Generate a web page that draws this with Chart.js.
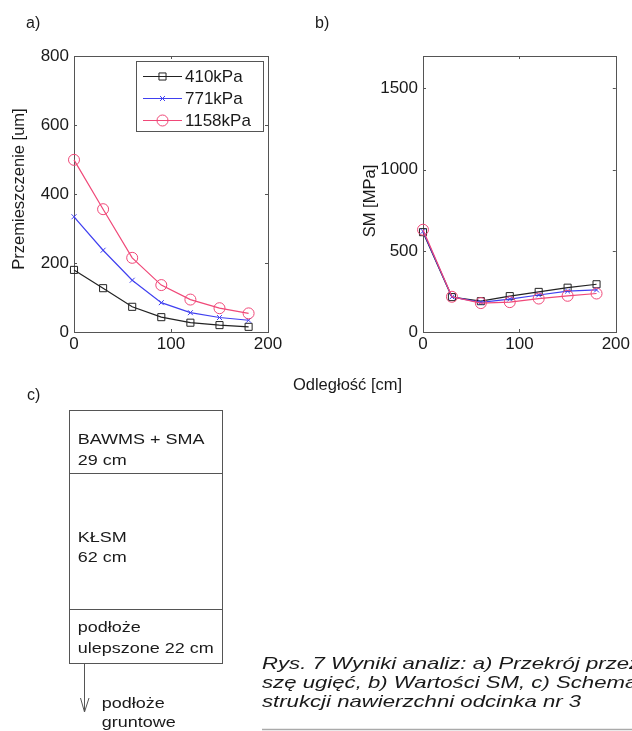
<!DOCTYPE html>
<html><head><meta charset="utf-8">
<script src="https://cdn.jsdelivr.net/npm/chart.js@4.4.1/dist/chart.umd.min.js"></script>
<style>
html,body{margin:0;padding:0;background:#fff;}
body{width:632px;height:731px;position:relative;overflow:hidden;font-family:"Liberation Sans",Arial,sans-serif;}
canvas{position:absolute;}
svg{position:absolute;left:0;top:0;}
</style></head><body>
<canvas id="ca" width="300" height="370" style="left:0;top:0;width:300px;height:370px"></canvas>
<canvas id="cb" width="332" height="370" style="left:300px;top:0;width:332px;height:370px"></canvas>
<svg width="632" height="731" font-family="Liberation Sans, Arial, sans-serif" fill="#1a1a1a" style="pointer-events:none">
  <text x="26" y="28" font-size="16">a)</text>
  <text x="315" y="28" font-size="16">b)</text>
  <text transform="translate(23.5,189) rotate(-90)" font-size="16.5" text-anchor="middle">Przemieszczenie [um]</text>
  <text transform="translate(375,201) rotate(-90)" font-size="16.5" text-anchor="middle">SM [MPa]</text>
  <text x="347.5" y="390" font-size="16.5" text-anchor="middle">Odległość [cm]</text>
  <text x="27" y="400" font-size="16">c)</text>
  <g stroke="#555" stroke-width="1" fill="none">
    <rect x="69.5" y="410.5" width="153" height="253"/>
    <line x1="69.5" y1="473.5" x2="222.5" y2="473.5"/>
    <line x1="69.5" y1="609.5" x2="222.5" y2="609.5"/>
    <line x1="84.5" y1="663.5" x2="84.5" y2="712"/>
    <polyline points="80.5,698 84.5,712 89,698"/>
  </g>
  <g font-size="15">
    <text transform="translate(77.7,444) scale(1.2,1)">BAWMS + SMA</text>
    <text transform="translate(77.7,465) scale(1.2,1)">29 cm</text>
    <text transform="translate(77.7,541.7) scale(1.2,1)">KŁSM</text>
    <text transform="translate(77.7,561.7) scale(1.2,1)">62 cm</text>
    <text transform="translate(77.7,631.7) scale(1.2,1)">podłoże</text>
    <text transform="translate(77.7,652.7) scale(1.2,1)">ulepszone 22 cm</text>
    <text transform="translate(101.7,708) scale(1.2,1)">podłoże</text>
    <text transform="translate(101.7,727) scale(1.2,1)">gruntowe</text>
  </g>
  <g font-size="16" font-style="italic">
    <text transform="translate(262,669) scale(1.386,1)">Rys. 7 Wyniki analiz: a) Przekrój przez</text>
    <text transform="translate(262,688) scale(1.386,1)">szę ugięć, b) Wartości SM, c) Schema</text>
    <text transform="translate(262,707) scale(1.386,1)">strukcji nawierzchni odcinka nr 3</text>
  </g>
  <line x1="262" y1="729.5" x2="632" y2="729.5" stroke="#aaa" stroke-width="1.5"/>
</svg>
<script>
// ---- data ----
const distances = [0, 30, 60, 90, 120, 150, 180];
const seriesNames = ['410kPa', '771kPa', '1158kPa'];
const deflection410 = [180, 127, 73, 43, 27, 20, 15];
const deflection771 = [334, 237, 150, 85, 56, 42, 34];
const deflection1158 = [499, 356, 215, 136, 94, 69, 54];
const sm410 = [615, 215, 190, 221, 247, 273, 294];
const sm771 = [620, 216, 183, 203, 228, 252, 259];
const sm1158 = [630, 217, 178, 184, 206, 223, 237];
const xTicks = [0, 100, 200];
const yTicksA = [0, 200, 400, 600, 800];
const yTicksB = [0, 500, 1000, 1500];

const colors = ['#222222', '#4040f0', '#f04878'];
const styles = [
  {pointStyle: 'rect', radius: 5},
  {pointStyle: 'crossRot', radius: 3.5},
  {pointStyle: 'circle', radius: 5.5}
];
const FONT = 'Liberation Sans, Arial, sans-serif';

function pts(vals){ return distances.map((d,i)=>({x:d, y:vals[i]})); }
function makeDatasets(arrs){
  return arrs.map((a,i)=>({
    label: seriesNames[i], data: pts(a),
    borderColor: colors[i], backgroundColor: colors[i],
    borderWidth: 1.2, pointStyle: styles[i].pointStyle, pointRadius: styles[i].radius,
    pointBorderWidth: 1, pointBackgroundColor: 'rgba(0,0,0,0)', pointBorderColor: colors[i],
    tension: 0, clip: false, order: 2 - i
  }));
}

const frameTicks = {
  id: 'frameTicks',
  beforeDatasetsDraw(chart){
    const {ctx, chartArea:{left,right,top,bottom}, scales:{x,y}} = chart;
    ctx.save();
    ctx.strokeStyle = '#555'; ctx.lineWidth = 1;
    ctx.strokeRect(Math.round(left)+0.5, Math.round(top)+0.5, Math.round(right-left), Math.round(bottom-top));
    ctx.beginPath();
    x.ticks.forEach(t=>{
      const px = Math.round(x.getPixelForValue(t.value))+0.5;
      ctx.moveTo(px, bottom); ctx.lineTo(px, bottom-3);
      ctx.moveTo(px, top); ctx.lineTo(px, top+3);
    });
    y.ticks.forEach(t=>{
      const py = Math.round(y.getPixelForValue(t.value))+0.5;
      ctx.moveTo(left, py); ctx.lineTo(left+3, py);
      ctx.moveTo(right, py); ctx.lineTo(right-3, py);
    });
    ctx.stroke();
    ctx.restore();
  }
};

const insideLegend = {
  id: 'insideLegend',
  afterDraw(chart){
    if (!chart.options.plugins.insideLegend || !chart.options.plugins.insideLegend.show) return;
    const ctx = chart.ctx;
    ctx.save();
    ctx.fillStyle = '#fff'; ctx.strokeStyle = '#555'; ctx.lineWidth = 1;
    ctx.fillRect(136.5, 61.5, 127, 70);
    ctx.strokeRect(136.5, 61.5, 127, 70);
    chart.data.datasets.forEach((ds,i)=>{
      const yc = 76.5 + 22*i;
      ctx.strokeStyle = ds.borderColor; ctx.lineWidth = ds.borderWidth;
      ctx.beginPath(); ctx.moveTo(143, yc); ctx.lineTo(182, yc); ctx.stroke();
      ctx.lineWidth = 1;
      ctx.fillStyle = 'rgba(0,0,0,0)';
      Chart.helpers.drawPoint(ctx, {pointStyle: ds.pointStyle, radius: ds.pointRadius, borderWidth: 1, rotation: 0}, 162.5, yc);
      ctx.fillStyle = '#1a1a1a';
      ctx.font = '17px ' + FONT;
      ctx.textBaseline = 'middle'; ctx.textAlign = 'left';
      ctx.fillText(ds.label, 185, yc + 1);
    });
    ctx.restore();
  }
};

function makeOptions(yMax, yTicks, padLeft, yWidth, padRight, legend){
  return {
    responsive: false, animation: false, devicePixelRatio: 1,
    layout: {padding: {left: padLeft, top: 56, right: padRight, bottom: 0}},
    plugins: {legend: {display: false}, tooltip: {enabled: false}, insideLegend: {show: legend}},
    scales: {
      x: {
        type: 'linear', min: 0, max: 200,
        grid: {display: false, drawTicks: false}, border: {display: false},
        afterBuildTicks: s => { s.ticks = xTicks.map(v=>({value:v})); },
        afterFit: s => { s.height = 38; },
        ticks: {padding: 2, color: '#1a1a1a', font: {family: FONT, size: 17}, maxRotation: 0, autoSkip: false,
                callback: v => String(v)}
      },
      y: {
        type: 'linear', min: 0, max: yMax,
        grid: {display: false, drawTicks: false}, border: {display: false},
        afterBuildTicks: s => { s.ticks = yTicks.map(v=>({value:v})); },
        afterFit: s => { s.width = yWidth; },
        ticks: {padding: 5, color: '#1a1a1a', font: {family: FONT, size: 17}, autoSkip: false,
                callback: v => String(v)}
      }
    }
  };
}

Chart.defaults.font.family = FONT;

new Chart(document.getElementById('ca'), {
  type: 'line',
  data: {datasets: makeDatasets([deflection410, deflection771, deflection1158])},
  options: makeOptions(800, yTicksA, 0, 74, 32, true),
  plugins: [frameTicks, insideLegend]
});

new Chart(document.getElementById('cb'), {
  type: 'line',
  data: {datasets: makeDatasets([sm410, sm771, sm1158])},
  options: makeOptions(1700, yTicksB, 55, 68, 15, false),
  plugins: [frameTicks, insideLegend]
});
</script>
</body></html>
